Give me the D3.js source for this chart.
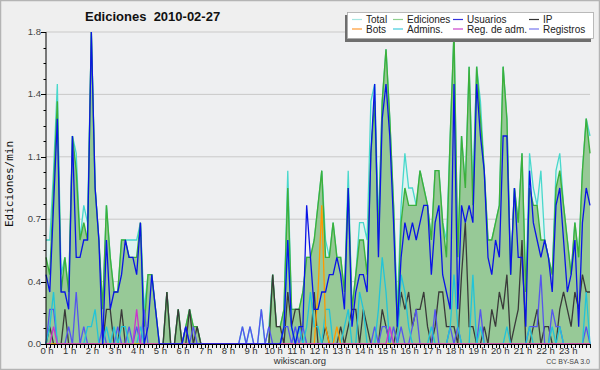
<!DOCTYPE html>
<html><head><meta charset="utf-8">
<script src="https://cdn.jsdelivr.net/npm/d3@7"></script>
<style>
html,body{margin:0;padding:0;background:#efefef;}
svg{display:block;font-family:"Liberation Sans",Arial,sans-serif;}
</style></head>
<body><svg id="c" width="600" height="370"></svg>
<script>
// 10-minute slots, 0h00 .. 24h00 (145 points), values in edits/min
const hourLabels = d3.range(24).map(h => h + " h");
const yTickValues = [0, 0.36, 0.72, 1.08, 1.44, 1.8];
const yTickLabels = ["0.0", "0.4", "0.7", "1.1", "1.4", "1.8"];

const total = [
0.6,0.6,1.0,1.5,0.4,0.5, 0.3,1.2,1.1,0.6,0.8,0.7, 1.8,0.9,0.6,0.2,0.8,0.5, 0.3,0.3,0.6,0.6,0.6,0.6,
0.6,0.7,0.2,0.4,0.4,0.2, 0,0,0.3,0,0,0.2, 0,0.1,0.2,0.1,0.1,0, 0,0,0,0,0,0,
0,0,0,0,0.1,0, 0.1,0,0,0.2,0,0.1, 0.4,0.1,0.1,0.2,1.0,0.2, 0.2,0.2,0.3,0.5,0.5,0.6,
0.8,1.0,0.6,0.5,0.7,0.5, 0.5,0.3,1.0,0.2,0.4,0.7, 0.7,0.6,1.4,1.5,0.7,1.4, 1.7,1.3,0.8,0.2,0.8,1.1,
0.9,0.9,0.8,1.0,0.9,0.8, 0.6,1.0,1.0,0.7,0.6,1.2, 1.8,0.5,1.2,0.9,1.6,0.9, 1.6,1.4,1.0,0.6,0.6,0.7,
0.8,1.6,1.3,0.4,0.9,0.7, 1.1,0.3,1.1,0.9,0.8,1.0, 0.6,0.5,0.4,1.0,1.1,0.8, 0.6,0.4,0.7,0.5,1.0,1.3,
1.2];
const ediciones = [
0.5,0.4,0.9,1.4,0.3,0.5, 0.3,1.2,1.0,0.6,0.7,0.6, 1.8,0.9,0.6,0.2,0.8,0.5, 0.3,0.3,0.6,0.6,0.5,0.5,
0.5,0.7,0.1,0.4,0.4,0.2, 0,0,0.3,0,0,0.2, 0,0.1,0.2,0.1,0.1,0, 0,0,0,0,0,0,
0,0,0,0,0,0, 0,0,0,0,0,0, 0.4,0.1,0.1,0.2,0.9,0.2, 0.2,0.2,0.3,0.5,0.5,0.6,
0.8,1.0,0.5,0.5,0.7,0.5, 0.5,0.3,0.9,0.2,0.4,0.6, 0.6,0.4,1.1,1.4,0.6,1.4, 1.7,1.3,0.8,0.1,0.7,0.9,
0.8,0.8,0.8,1.0,0.9,0.8, 0.6,1.0,1.0,0.7,0.5,1.2, 1.8,0.5,1.2,0.9,1.6,0.8, 1.6,1.3,1.0,0.6,0.6,0.7,
0.8,1.6,1.3,0.4,0.9,0.7, 1.1,0.3,0.9,0.8,0.8,0.6, 0.6,0.5,0.4,0.9,1.0,0.8, 0.6,0.4,0.7,0.5,1.0,1.3,
1.1];
const usuarios = [
0.4,0.3,0.8,1.3,0.3,0.3, 0.2,1.2,0.5,0.5,0.6,0.6, 1.8,0.9,0.6,0,0.6,0.2, 0.3,0.3,0.4,0.6,0.5,0.5,
0.4,0.7,0,0.1,0.4,0.2, 0,0,0,0,0,0, 0,0.1,0,0,0,0, 0,0,0,0,0,0,
0,0,0,0,0,0, 0,0,0,0,0,0, 0,0,0,0.1,0.6,0.1, 0,0.1,0.1,0.8,0.5,0.2,
0.2,0.3,0.3,0.4,0.4,0.5, 0.4,0.2,0.9,0.1,0.3,0.4, 0.4,0.3,1.1,1.5,0.5,1.3, 1.5,1.2,0.7,0.1,0.5,0.7,
0.6,0.7,0.6,0.7,0.8,0.8, 0.4,0.7,0.8,0.4,0.3,0.2, 1.5,0.2,0.8,0.7,0.8,0.7, 1.5,1.2,1.0,0.5,0.4,0.6,
0.5,1.2,1.2,0.4,0.9,0.5, 0.5,0.1,1.0,0.7,0.6,0.5, 0.6,0.5,0.3,0.8,0.9,0.6, 0.3,0.4,0.6,0.1,0.7,0.9,
0.8];
const ip = [
0,0.1,0,0,0,0.2, 0,0,0,0,0,0, 0,0,0,0,0.2,0.2, 0,0,0.2,0,0,0,
0,0,0,0,0,0, 0,0,0.3,0,0,0.2, 0,0,0.2,0,0.1,0, 0,0,0,0,0,0,
0,0,0,0,0,0, 0,0,0,0,0,0, 0.4,0.1,0.1,0,0.3,0.1, 0.2,0.2,0,0,0,0.3,
0,0,0.1,0,0,0, 0.1,0,0.1,0.2,0.2,0, 0.2,0.1,0,0,0,0.2, 0.1,0,0,0.1,0.3,0.2,
0.3,0.1,0.2,0.2,0.3,0.1, 0,0.1,0.3,0.3,0.1,0.1, 0.1,0,0.4,0.7,0.1,0.1, 0,0,0.1,0,0.2,0.1,
0.3,0.2,0.4,0,0.1,0.2, 0.6,0,0,0.1,0.2,0, 0.1,0.1,0,0,0.2,0.3, 0.2,0.1,0.3,0.2,0.4,0.3,
0.3];
const bots = [
0,0,0,0,0,0, 0,0,0,0,0,0, 0,0,0,0,0,0, 0,0,0,0,0,0,
0,0,0,0,0,0, 0,0,0,0,0,0, 0,0,0,0,0,0, 0,0,0,0,0,0,
0,0,0,0,0,0, 0,0,0,0,0,0, 0,0,0,0,0,0, 0,0,0,0,0,0,
0.3,0.8,0.1,0,0,0.1, 0,0,0,0,0,0, 0,0,0,0,0,0, 0,0,0,0,0,0,
0,0,0,0,0,0, 0,0,0,0,0,0, 0,0,0,0,0,0, 0,0,0,0,0,0,
0,0,0,0,0,0, 0,0,0,0,0,0, 0,0,0,0,0,0, 0,0,0,0,0,0,
0];
const admins = [
0,0.1,0.3,0,0,0, 0,0,0,0,0,0.1, 0.1,0.2,0,0,0.1,0, 0.1,0,0.1,0.1,0,0,
0,0.1,0,0,0,0, 0,0,0,0,0,0, 0,0,0,0,0,0, 0,0,0,0,0,0,
0,0,0,0,0,0, 0,0,0,0,0,0, 0,0,0,0.1,0.6,0.1, 0,0.1,0,0.1,0.3,0.1,
0.1,0,0.2,0.2,0,0, 0,0.1,0.2,0,0,0.3, 0.2,0,0,0,0.2,0.5, 0.3,0,0,0,0.4,0.3,
0.1,0,0,0,0,0, 0.1,0,0,0,0,0.1, 0.4,0.1,0,0,0,0.4, 0,0.1,0,0,0,0,
0,0,0.1,0,0,0, 0,0,0.1,0,0,0, 0,0,0.1,0,0.1,0, 0,0,0,0,0,0.3,
0];
const regAdm = [
0,0,0.1,0,0,0, 0,0,0,0,0,0, 0,0,0,0,0,0, 0,0,0,0,0,0,
0.2,0,0,0,0,0, 0,0,0,0,0,0, 0,0,0,0,0,0, 0,0,0,0,0,0,
0,0,0,0,0,0, 0,0,0,0,0,0, 0,0,0,0,0,0, 0,0,0,0,0,0,
0,0,0,0,0,0, 0,0,0,0,0,0, 0,0,0,0,0,0, 0,0.1,0,0,0,0,
0,0,0,0,0,0, 0,0,0,0,0,0, 0,0,0,0,0,0, 0,0,0,0,0,0,
0,0,0,0,0,0, 0,0,0,0,0,0, 0,0,0,0,0,0, 0,0,0,0,0,0,
0];
const registros = [
0,0.2,0.2,0,0,0, 0.1,0,0.3,0,0.1,0, 0,0,0,0.1,0,0, 0,0.1,0,0,0.1,0,
0.1,0,0.2,0,0,0, 0,0,0,0,0,0, 0,0.1,0,0.1,0,0, 0,0,0,0,0,0,
0,0,0,0,0.1,0, 0.1,0,0,0.2,0,0.1, 0,0,0,0.1,0.1,0, 0.1,0,0.1,0,0,0,
0,0,0,0,0,0, 0,0,0,0,0,0, 0,0,0,0.1,0,0.1, 0.1,0,0.1,0,0.1,0,
0,0.1,0.2,0,0,0, 0,0.2,0,0,0,0.1, 0,0.1,0,0,0,0, 0,0.2,0,0,0,0,
0,0,0,0,0,0, 0,0,0.1,0.1,0.1,0.4, 0,0,0.2,0.1,0.1,0, 0,0,0,0,0,0.1,
0];

const legendItems = [
  {name:"Total", color:"#a6e6e2"}, {name:"Ediciones", color:"#8fd08f"},
  {name:"Usuarios", color:"#3333dd"}, {name:"IP", color:"#333333"},
  {name:"Bots", color:"#ff9a33"}, {name:"Admins.", color:"#44ccdd"},
  {name:"Reg. de adm.", color:"#cc44cc"}, {name:"Registros", color:"#7777ee"}
];

const svg = d3.select("#c");
const W = 600, H = 370;
const x0 = 46, x1 = 590, yTop = 32, yBot = 344;

svg.append("rect").attr("x",0.5).attr("y",0.5).attr("width",W-1).attr("height",H-1)
  .attr("fill","#efefef").attr("stroke","#b4b4b4").attr("stroke-width",1.5);
svg.append("rect").attr("x",x0).attr("y",yTop).attr("width",x1-x0).attr("height",yBot-yTop).attr("fill","#eeeff1");

const x = d3.scaleLinear().domain([0,144]).range([x0,x1]);
const y = d3.scaleLinear().domain([0,1.8]).range([yBot,yTop]);

// grid
svg.append("g").selectAll("line").data(yTickValues.slice(1)).join("line")
  .attr("x1",x0).attr("x2",x1).attr("y1",d=>y(d)).attr("y2",d=>y(d))
  .attr("stroke","#c9c9c9").attr("stroke-width",1);

const idx = d3.range(145);
const line = arr => d3.line().x(i=>x(i)).y(i=>y(arr[i]))(idx);
const area = arr => d3.area().x(i=>x(i)).y0(yBot).y1(i=>y(arr[i]))(idx);

const plot = svg.append("g");
plot.append("path").attr("d",area(total)).attr("fill","#dff3f0");
plot.append("path").attr("d",line(total)).attr("fill","none").attr("stroke","#48d8cc").attr("stroke-width",1.3);
plot.append("path").attr("d",area(ediciones)).attr("fill","#97c997");
plot.append("path").attr("d",line(ediciones)).attr("fill","none").attr("stroke","#3cb03c").attr("stroke-width",1.4);

const series = [
  {d:ip, c:"#3a3a3a"}, {d:registros, c:"#5555ee"}, {d:admins, c:"#22c4d8"},
  {d:bots, c:"#ff9900"}, {d:regAdm, c:"#cc33cc"}, {d:usuarios, c:"#0a14e6"}
];
series.forEach(s => {
  plot.append("path").attr("d",line(s.d)).attr("fill","none").attr("stroke",s.c)
    .attr("stroke-width",1.3).attr("stroke-linejoin","miter");
});

// axes
const ax = svg.append("g").attr("stroke","#000").attr("stroke-width",1);
ax.append("line").attr("x1",x0).attr("x2",x0).attr("y1",yTop).attr("y2",yBot+0.5);
ax.append("line").attr("x1",x0).attr("x2",x1).attr("y1",yBot+0.5).attr("y2",yBot+0.5);
ax.selectAll(".ymin").data(d3.range(21)).join("line")
  .attr("x1",i => i%4===0 ? 41 : 43.5).attr("x2",x0).attr("y1",i=>Math.round(y(i*0.09))+0.5).attr("y2",i=>Math.round(y(i*0.09))+0.5);
ax.selectAll(".xt").data(idx).join("line")
  .attr("x1",i=>Math.round(x(i))+0.5).attr("x2",i=>Math.round(x(i))+0.5).attr("y1",yBot).attr("y2",yBot+4);

svg.append("g").selectAll("text").data(yTickValues).join("text")
  .attr("x",41).attr("y",d=>y(d)+3).attr("text-anchor","end")
  .attr("font-size",9.5).attr("fill","#444").text((d,i)=>yTickLabels[i]);

svg.append("g").selectAll("text").data(hourLabels).join("text")
  .attr("x",(d,i)=>x(i*6)+1).attr("y",354).attr("text-anchor","middle")
  .attr("font-size",9.5).attr("fill","#333").text(d=>d);

// title
svg.append("text").attr("x",85).attr("y",21).attr("font-size",13).attr("font-weight","bold")
  .attr("fill","#111").style("white-space","pre").text("Ediciones  2010-02-27");
svg.append("text").attr("transform","translate(13,184) rotate(-90)").attr("text-anchor","middle")
  .attr("font-family","'DejaVu Sans Mono',monospace")
  .attr("font-size",11).attr("fill","#111").text("Ediciones/min");

svg.append("text").attr("x",300).attr("y",364).attr("text-anchor","middle").attr("font-size",9.5).attr("fill","#333").text("wikiscan.org");
svg.append("text").attr("x",590).attr("y",364).attr("text-anchor","end").attr("font-size",7).attr("fill","#444").text("CC BY-SA 3.0");

// legend
const lg = svg.append("g");
lg.append("rect").attr("x",345).attr("y",15).attr("width",246).attr("height",27).attr("fill","#6e6e6e");
lg.append("rect").attr("x",347.5).attr("y",12.5).attr("width",246).attr("height",26).attr("fill","#fff").attr("stroke","#aaa").attr("stroke-width",0.8);
const colX = [352, 393, 453, 529];
legendItems.forEach((it,k) => {
  const c = k%4, r = Math.floor(k/4);
  const yy = 19.5 + r*9.5;
  lg.append("line").attr("x1",colX[c]).attr("x2",colX[c]+10).attr("y1",yy).attr("y2",yy).attr("stroke",it.color).attr("stroke-width",1.2);
  lg.append("text").attr("x",colX[c]+14).attr("y",yy+3.5).attr("font-size",10).attr("fill","#222").text(it.name);
});
</script></body></html>
